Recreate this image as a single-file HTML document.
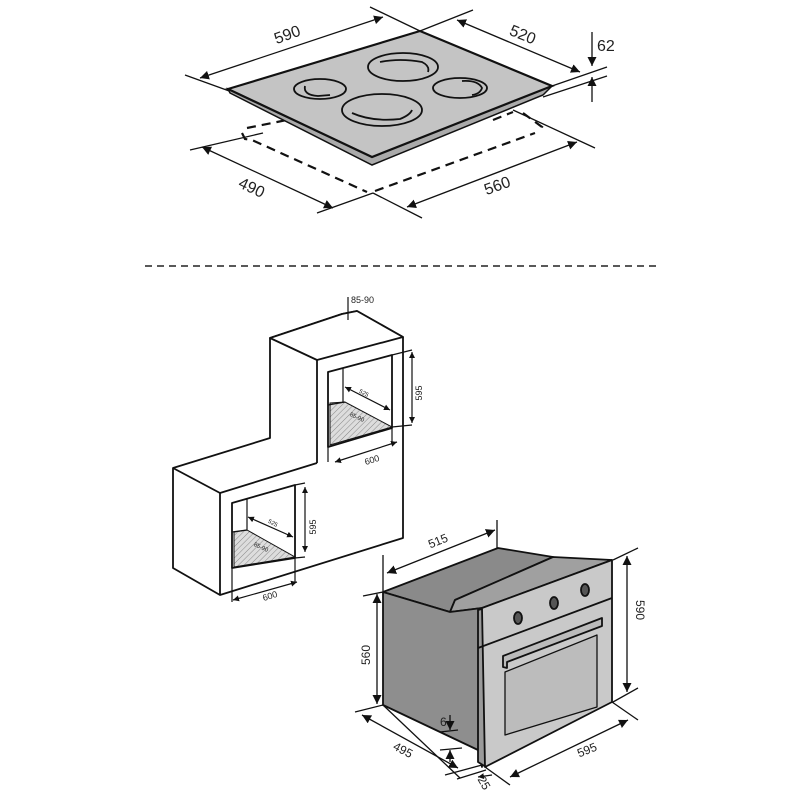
<!DOCTYPE html>
<html><head><meta charset="utf-8"><style>
html,body{margin:0;padding:0;background:#fff;}
svg{display:block;}
text{font-family:"Liberation Sans",sans-serif;fill:#222;}
</style></head><body>
<svg width="800" height="800" viewBox="0 0 800 800" xmlns="http://www.w3.org/2000/svg">
<defs>
<marker id="a" viewBox="0 0 10 10" refX="10" refY="5" markerWidth="9" markerHeight="9" orient="auto-start-reverse" markerUnits="userSpaceOnUse"><path d="M0,0 L10,5 L0,10 z" fill="#111"/></marker>
<marker id="s" viewBox="0 0 10 10" refX="10" refY="5" markerWidth="6" markerHeight="6" orient="auto-start-reverse" markerUnits="userSpaceOnUse"><path d="M0,0 L10,5 L0,10 z" fill="#111"/></marker>
<pattern id="h" width="4" height="4" patternUnits="userSpaceOnUse" patternTransform="rotate(45)"><rect width="4" height="4" fill="#ddd"/><line x1="0" y1="0" x2="0" y2="4" stroke="#888" stroke-width="1"/></pattern>
</defs>

<!-- HOB -->
<g stroke="#111" fill="none" stroke-width="1.3">
<line x1="185" y1="75" x2="232" y2="92"/>
<line x1="370" y1="7" x2="420" y2="31"/>
<line x1="420" y1="31" x2="473" y2="10"/>
<line x1="552" y1="86" x2="607" y2="67"/>
<line x1="543" y1="97" x2="607" y2="76"/>
<line x1="200" y1="78" x2="383" y2="17" marker-start="url(#a)" marker-end="url(#a)"/>
<line x1="457" y1="20" x2="580" y2="72" marker-start="url(#a)" marker-end="url(#a)"/>
<line x1="592" y1="32" x2="592" y2="66" marker-end="url(#a)"/>
<line x1="592" y1="102" x2="592" y2="77" marker-end="url(#a)"/>
<line x1="190" y1="150" x2="263" y2="133"/>
<line x1="317" y1="213" x2="373" y2="193"/>
<line x1="373" y1="193" x2="422" y2="218"/>
<line x1="513" y1="110" x2="595" y2="148"/>
<line x1="202" y1="147" x2="333" y2="208" marker-start="url(#a)" marker-end="url(#a)"/>
<line x1="407" y1="207" x2="577" y2="142" marker-start="url(#a)" marker-end="url(#a)"/>
</g>
<g stroke="#111" fill="none" stroke-width="2.2" stroke-dasharray="9,6">
<path d="M247,128 L287,120"/>
<path d="M242,133 L245,139 L252,140 L367,192"/>
<path d="M375,191 L535,133"/>
<path d="M493,120 L513,112"/>
<path d="M523,113 L542,127 L538,132"/>
</g>
<polygon points="230,93 372,165 543,95 552,86 372,157 228,89" fill="#aaa" stroke="#111" stroke-width="1.5"/>
<polygon points="228,89 420,31 552,86 372,157" fill="#c4c4c4" stroke="#111" stroke-width="2.2"/>
<g fill="none" stroke="#111" stroke-width="1.8">
<ellipse cx="403" cy="67" rx="35" ry="14"/>
<ellipse cx="320" cy="89" rx="26" ry="10"/>
<ellipse cx="460" cy="88" rx="27" ry="10"/>
<ellipse cx="382" cy="110" rx="40" ry="16"/>
<path d="M380,62 Q400,58 422,62 Q430,66 428,72"/>
<path d="M305,86 Q303,95 318,96 L330,95"/>
<path d="M462,81 Q478,80 482,88 Q480,94 472,95"/>
<path d="M352,113 Q372,122 400,119 Q410,115 412,110"/>
</g>
<g font-size="16">
<text x="287" y="40" transform="rotate(-20 287 34)" text-anchor="middle">590</text>
<text x="523" y="40" transform="rotate(22 523 34)" text-anchor="middle">520</text>
<text x="597" y="51">62</text>
<text x="252" y="193" transform="rotate(25 252 187)" text-anchor="middle">490</text>
<text x="497" y="191" transform="rotate(-20 497 185)" text-anchor="middle">560</text>
</g>

<line x1="145" y1="266" x2="660" y2="266" stroke="#222" stroke-width="1.5" stroke-dasharray="7,5"/>

<!-- CABINET -->
<g stroke="#111" stroke-width="1.8" fill="#fff" stroke-linejoin="round">
<polygon points="173,468 270,438 270,338 285,333 342,314 357,311 403,337 403,538 220,595 173,568"/>
<polygon points="270,338 285,333 342,314 357,311 403,337 317,360" />
<line x1="317" y1="360" x2="317" y2="463"/>
<polyline points="173,468 220,493 317,463" fill="none"/>
<line x1="220" y1="493" x2="220" y2="595"/>
<polygon points="328,372 392,355 392,428 328,447"/>
<polygon points="232,503 295,485 295,558 232,568"/>
</g>
<polygon points="330,403 345,402 392,427 330,445" fill="url(#h)" stroke="#111" stroke-width="1"/>
<polygon points="234,532 247,530 295,557 234,567" fill="url(#h)" stroke="#111" stroke-width="1"/>
<g stroke="#111" stroke-width="1.2" fill="none">
<line x1="343" y1="368" x2="343" y2="403"/><line x1="328" y1="405" x2="345" y2="402"/>
<line x1="247" y1="498" x2="247" y2="530"/><line x1="232" y1="532" x2="247" y2="530"/>
<line x1="348" y1="297" x2="348" y2="320"/>
<line x1="392" y1="355" x2="412" y2="350"/><line x1="392" y1="427" x2="412" y2="425"/>
<line x1="412" y1="352" x2="412" y2="423" marker-start="url(#s)" marker-end="url(#s)"/>
<line x1="345" y1="387" x2="390" y2="410" marker-start="url(#s)" marker-end="url(#s)"/>
<line x1="328" y1="447" x2="328" y2="462"/><line x1="392" y1="428" x2="392" y2="442"/>
<line x1="335" y1="462" x2="397" y2="442" marker-start="url(#s)" marker-end="url(#s)"/>
<line x1="295" y1="485" x2="305" y2="483"/><line x1="295" y1="558" x2="305" y2="557"/>
<line x1="305" y1="487" x2="305" y2="552" marker-start="url(#s)" marker-end="url(#s)"/>
<line x1="248" y1="517" x2="293" y2="537" marker-start="url(#s)" marker-end="url(#s)"/>
<line x1="232" y1="568" x2="232" y2="602"/><line x1="295" y1="558" x2="295" y2="582"/>
<line x1="233" y1="600" x2="297" y2="582" marker-start="url(#s)" marker-end="url(#s)"/>
</g>
<g font-size="9">
<text x="351" y="303">85-90</text>
<text x="422" y="393" transform="rotate(-90 422 393)" text-anchor="middle">595</text>
<text x="316" y="527" transform="rotate(-90 316 527)" text-anchor="middle">595</text>
<text x="372" y="463" transform="rotate(-18 372 460)" text-anchor="middle">600</text>
<text x="270" y="599" transform="rotate(-18 270 596)" text-anchor="middle">600</text>
<text x="364" y="395" font-size="6" transform="rotate(28 364 393)" text-anchor="middle">525</text>
<text x="273" y="525" font-size="6" transform="rotate(28 273 523)" text-anchor="middle">525</text>
<text x="357" y="419" font-size="6" transform="rotate(25 357 417)" text-anchor="middle">85-90</text>
<text x="261" y="549" font-size="6" transform="rotate(25 261 547)" text-anchor="middle">85-90</text>
</g>

<!-- OVEN -->
<g stroke="#111" stroke-width="1.8" stroke-linejoin="round">
<polygon points="383,592 498,548 553,557 455,600 450,612" fill="#8a8a8a"/>
<polygon points="455,600 553,557 612,560 482,608 450,612" fill="#a0a0a0"/>
<polygon points="383,592 450,612 482,608 482,767 478,750 383,705" fill="#8e8e8e"/>
<polygon points="478,610 486,608 486,767 478,762" fill="#9a9a9a"/>
<polygon points="482,608 612,560 612,702 485,767" fill="#c9c9c9"/>
<line x1="478" y1="648" x2="612" y2="598"/>
<polygon points="503,656 602,618 602,626 507,662 507,668 503,667" fill="#bbb"/>
<polygon points="505,672 597,635 597,707 505,735" fill="#bcbcbc" stroke-width="1.3"/>
<ellipse cx="518" cy="618" rx="4" ry="6" fill="#555"/>
<ellipse cx="554" cy="603" rx="4" ry="6" fill="#555"/>
<ellipse cx="585" cy="590" rx="4" ry="6" fill="#555"/>
</g>
<g stroke="#111" stroke-width="1.3" fill="none">
<line x1="383" y1="555" x2="383" y2="592"/>
<line x1="497" y1="520" x2="497" y2="548"/>
<line x1="387" y1="573" x2="495" y2="530" marker-start="url(#a)" marker-end="url(#a)"/>
<line x1="613" y1="560" x2="638" y2="548"/><line x1="613" y1="702" x2="638" y2="688"/>
<line x1="627" y1="556" x2="627" y2="692" marker-start="url(#a)" marker-end="url(#a)"/>
<line x1="363" y1="596" x2="383" y2="592"/>
<line x1="377" y1="594" x2="377" y2="704" marker-start="url(#a)" marker-end="url(#a)"/>
<line x1="355" y1="712" x2="383" y2="705"/>
<line x1="383" y1="705" x2="460" y2="778"/>
<line x1="362" y1="715" x2="458" y2="768" marker-start="url(#a)" marker-end="url(#a)"/>
<line x1="612" y1="702" x2="638" y2="720"/>
<line x1="485" y1="767" x2="510" y2="785"/>
<line x1="510" y1="777" x2="628" y2="720" marker-start="url(#a)" marker-end="url(#a)"/>
<line x1="450" y1="715" x2="450" y2="730" marker-end="url(#a)"/>
<line x1="450" y1="762" x2="450" y2="750" marker-end="url(#a)"/>
<line x1="440" y1="732" x2="458" y2="730"/>
<line x1="440" y1="750" x2="462" y2="748"/>
<line x1="445" y1="775" x2="482" y2="765"/>
<line x1="457" y1="779" x2="486" y2="770"/>
<line x1="492" y1="775" x2="478" y2="777" marker-end="url(#s)"/>
</g>
<g font-size="12">
<text x="438" y="545" transform="rotate(-22 438 541)" text-anchor="middle">515</text>
<text x="636" y="610" transform="rotate(90 636 610)" text-anchor="middle">590</text>
<text x="370" y="655" transform="rotate(-90 370 655)" text-anchor="middle">560</text>
<text x="403" y="754" transform="rotate(28 403 750)" text-anchor="middle">495</text>
<text x="587" y="754" transform="rotate(-22 587 750)" text-anchor="middle">595</text>
<text x="440" y="726">6</text>
<text x="484" y="787" transform="rotate(60 484 783)" text-anchor="middle">25</text>
</g>
</svg>
</body></html>
